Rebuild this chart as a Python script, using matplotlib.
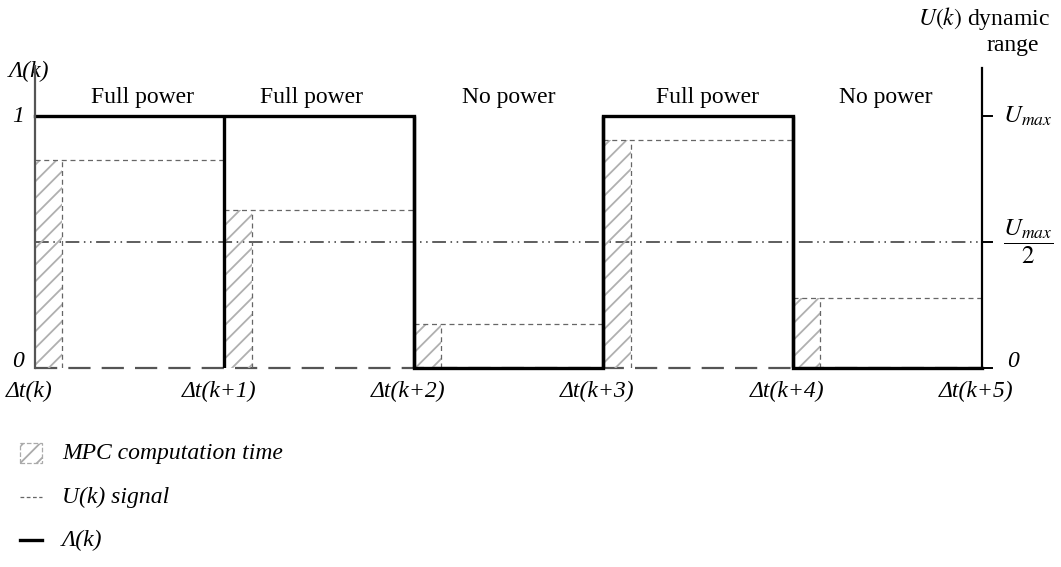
import matplotlib
matplotlib.use('Agg')
import matplotlib.pyplot as plt
from matplotlib.patches import Rectangle
from matplotlib.lines import Line2D
import numpy as np

plt.rcParams['font.family'] = ['Liberation Serif', 'DejaVu Serif']
plt.rcParams['mathtext.fontset'] = 'stix'
plt.rcParams['hatch.linewidth'] = 1.3

# sampling instants and per-interval values
boundaries = [0, 1, 2, 3, 4, 5]
tick_labels = ['Δt(k)', 'Δt(k+1)', 'Δt(k+2)', 'Δt(k+3)', 'Δt(k+4)', 'Δt(k+5)']
lam = [1, 1, 0, 1, 0]
u_signal = [0.825, 0.627, 0.175, 0.905, 0.278]
mpc_time = [0.145, 0.145, 0.145, 0.145, 0.145]
power_text = ['Full power', 'Full power', 'No power', 'Full power', 'No power']
power_text_x = [0.565, 1.46, 2.5, 3.55, 4.49]

FS = 17
W, H = 1061, 567
fig = plt.figure(figsize=(W / 100, H / 100), dpi=100)
ax = fig.add_axes([35 / W, 199 / H, 947 / W, 1.2 * 252 / H])
ax.set_xlim(0, 5)
ax.set_ylim(0, 1.2)
ax.axis('off')

# reference lines: zero level and half range
ax.plot([0, 5], [0, 0], color='#555555', lw=1.6, dashes=(10, 5), clip_on=False, zorder=1)
ax.plot([0, 5], [0.5, 0.5], color='#333333', lw=1.1,
        dashes=(9, 3, 1, 3, 1, 3), clip_on=False, zorder=1)

# MPC computation time (hatched) and U(k) signal
ax.bar(boundaries[:-1], u_signal, width=mpc_time, align='edge', fill=False,
       hatch='//', edgecolor='#b0b0b0', linewidth=0, zorder=2)
for i in range(5):
    x0, x1 = boundaries[i], boundaries[i + 1]
    ax.plot([x0, x1], [u_signal[i], u_signal[i]], color='#666666', lw=0.9,
            dashes=(4, 3), zorder=3)
    ax.plot([x0 + mpc_time[i], x0 + mpc_time[i]], [0, u_signal[i]], color='#666666',
            lw=0.9, dashes=(4, 3), zorder=3)

# Λ(k) switching signal
ax.step(boundaries, lam + [lam[-1]], where='post', color='black', lw=2.4,
        clip_on=False, zorder=5, solid_joinstyle='miter')
ax.vlines(boundaries[1:-1], 0, 1, color='black', lw=2.4, zorder=5)

# axes
ax.plot([0, 0], [0, 1.2], color='#555555', lw=1.6, clip_on=False, zorder=6)
ax.plot([5, 5], [0, 1.19], color='black', lw=1.6, clip_on=False, zorder=6)
for yv in [0, 0.5, 1]:
    ax.plot([5, 5.055], [yv, yv], color='black', lw=1.4, clip_on=False)

for x, t in zip(power_text_x, power_text):
    ax.text(x, 1.075, t, fontsize=FS, ha='center', va='center')

for x, t in zip(boundaries, tick_labels):
    ax.text(x - 0.03, -0.095, t, fontsize=FS, style='italic', ha='center', va='center')

ax.text(-0.09, 1.0, '1', fontsize=FS, style='italic', ha='center', va='center')
ax.text(-0.09, 0.025, '0', fontsize=FS, style='italic', ha='center', va='center')
ax.text(-0.03, 1.175, 'Λ(k)', fontsize=FS, style='italic', ha='center', va='center')

ax.text(5.11, 1.0, r'$U_{max}$', fontsize=FS + 1, ha='left', va='center')
ax.text(5.11, 0.5, r'$\dfrac{U_{max}}{2}$', fontsize=FS + 1, ha='left', va='center')
ax.text(5.13, 0.025, '0', fontsize=FS, style='italic', ha='left', va='center')

fig.text(1050 / W, 1 - 18 / H, r'$\mathit{U(k)}$ dynamic', fontsize=FS, ha='right', va='center')
fig.text(1013 / W, 1 - 46 / H, 'range', fontsize=FS, ha='center', va='center')

# legend
fig.patches.append(Rectangle((20 / W, 1 - 463 / H), 22 / W, 20 / H, transform=fig.transFigure,
                             fill=False, hatch='//', edgecolor='#aaaaaa', lw=0.9,
                             linestyle='--'))
fig.text(62 / W, 1 - 453 / H, 'MPC computation time', fontsize=FS, style='italic', va='center')
fig.lines.append(Line2D([20 / W, 42 / W], [1 - 497 / H, 1 - 497 / H], transform=fig.transFigure,
                        color='#666666', lw=0.9, dashes=(3, 2)))
fig.text(62 / W, 1 - 497 / H, 'U(k) signal', fontsize=FS, style='italic', va='center')
fig.lines.append(Line2D([20 / W, 42 / W], [1 - 540 / H, 1 - 540 / H], transform=fig.transFigure,
                        color='black', lw=2.4))
fig.text(62 / W, 1 - 540 / H, 'Λ(k)', fontsize=FS, style='italic', va='center')

fig.savefig('out.png', dpi=100)
